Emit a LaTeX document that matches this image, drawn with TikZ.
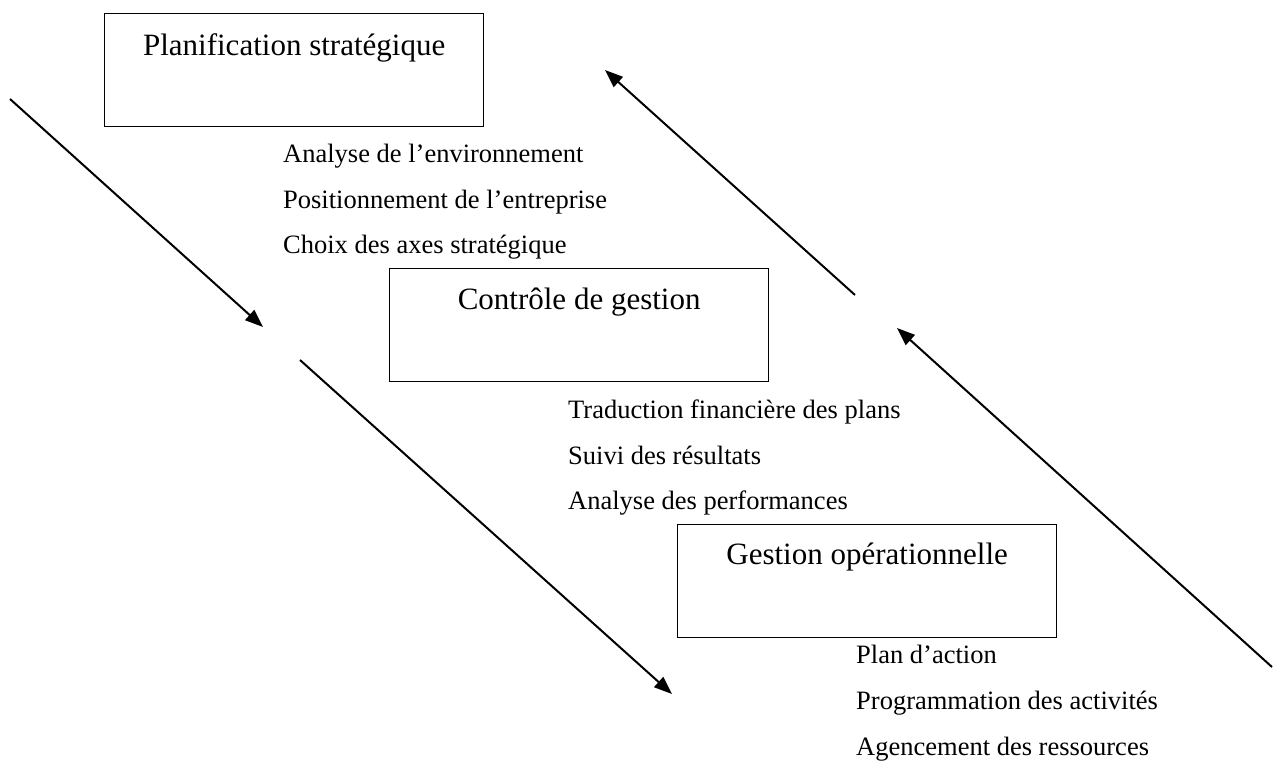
\documentclass[tikz,border=0pt]{standalone}
\usepackage{fontspec}
\setmainfont{Liberation Serif}
\usetikzlibrary{arrows.meta}

\tikzset{
  stage/.style={draw, line width=1.3pt, minimum width=379pt, minimum height=113pt,
                inner sep=0pt, anchor=north west},
  title/.style={anchor=base, inner sep=0pt, font=\fontsize{31}{36}\selectfont},
  item/.style={anchor=base west, inner sep=0pt, font=\fontsize{26.5}{30}\selectfont},
  flow/.style={line width=2pt, -{Triangle[length=18pt,width=13.5pt]}}
}

\begin{document}
\begin{tikzpicture}[x=1pt, y=-1pt]
  \useasboundingbox (0,0) rectangle (1275,769);

  % the three management levels
  \node[stage] (plan) at (104,13) {};
  \node[stage] (ctrl) at (389,268) {};
  \node[stage] (oper) at (677,524) {};

  \node[title] (planT) at ([yshift=-42pt]plan.north) {Planification stratégique};
  \node[title] (ctrlT) at ([yshift=-41pt]ctrl.north) {Contrôle de gestion};
  \node[title] (operT) at ([yshift=-40pt]oper.north) {Gestion opérationnelle};

  % activities under each level
  \node[item] (p1) at (283,162) {Analyse de l’environnement};
  \node[item] (p2) at (283,208) {Positionnement de l’entreprise};
  \node[item] (p3) at (283,253) {Choix des axes stratégique};

  \node[item] (c1) at (568,418) {Traduction financière des plans};
  \node[item] (c2) at (568,464) {Suivi des résultats};
  \node[item] (c3) at (568,509) {Analyse des performances};

  \node[item] (o1) at (856,663) {Plan d’action};
  \node[item] (o2) at (856,709) {Programmation des activités};
  \node[item] (o3) at (856,755) {Agencement des ressources};

  % descending flow
  \coordinate (d1s) at (10,99);
  \coordinate (d1e) at (263,327);
  \coordinate (d2s) at (300,360);
  \coordinate (d2e) at (672,694);
  \draw[flow] (d1s) -- (d1e);
  \draw[flow] (d2s) -- (d2e);

  % ascending flow
  \coordinate (u1s) at (1272,667);
  \coordinate (u1e) at (897,328);
  \coordinate (u2s) at (855,295);
  \coordinate (u2e) at (605,70);
  \draw[flow] (u1s) -- (u1e);
  \draw[flow] (u2s) -- (u2e);
\end{tikzpicture}
\end{document}
